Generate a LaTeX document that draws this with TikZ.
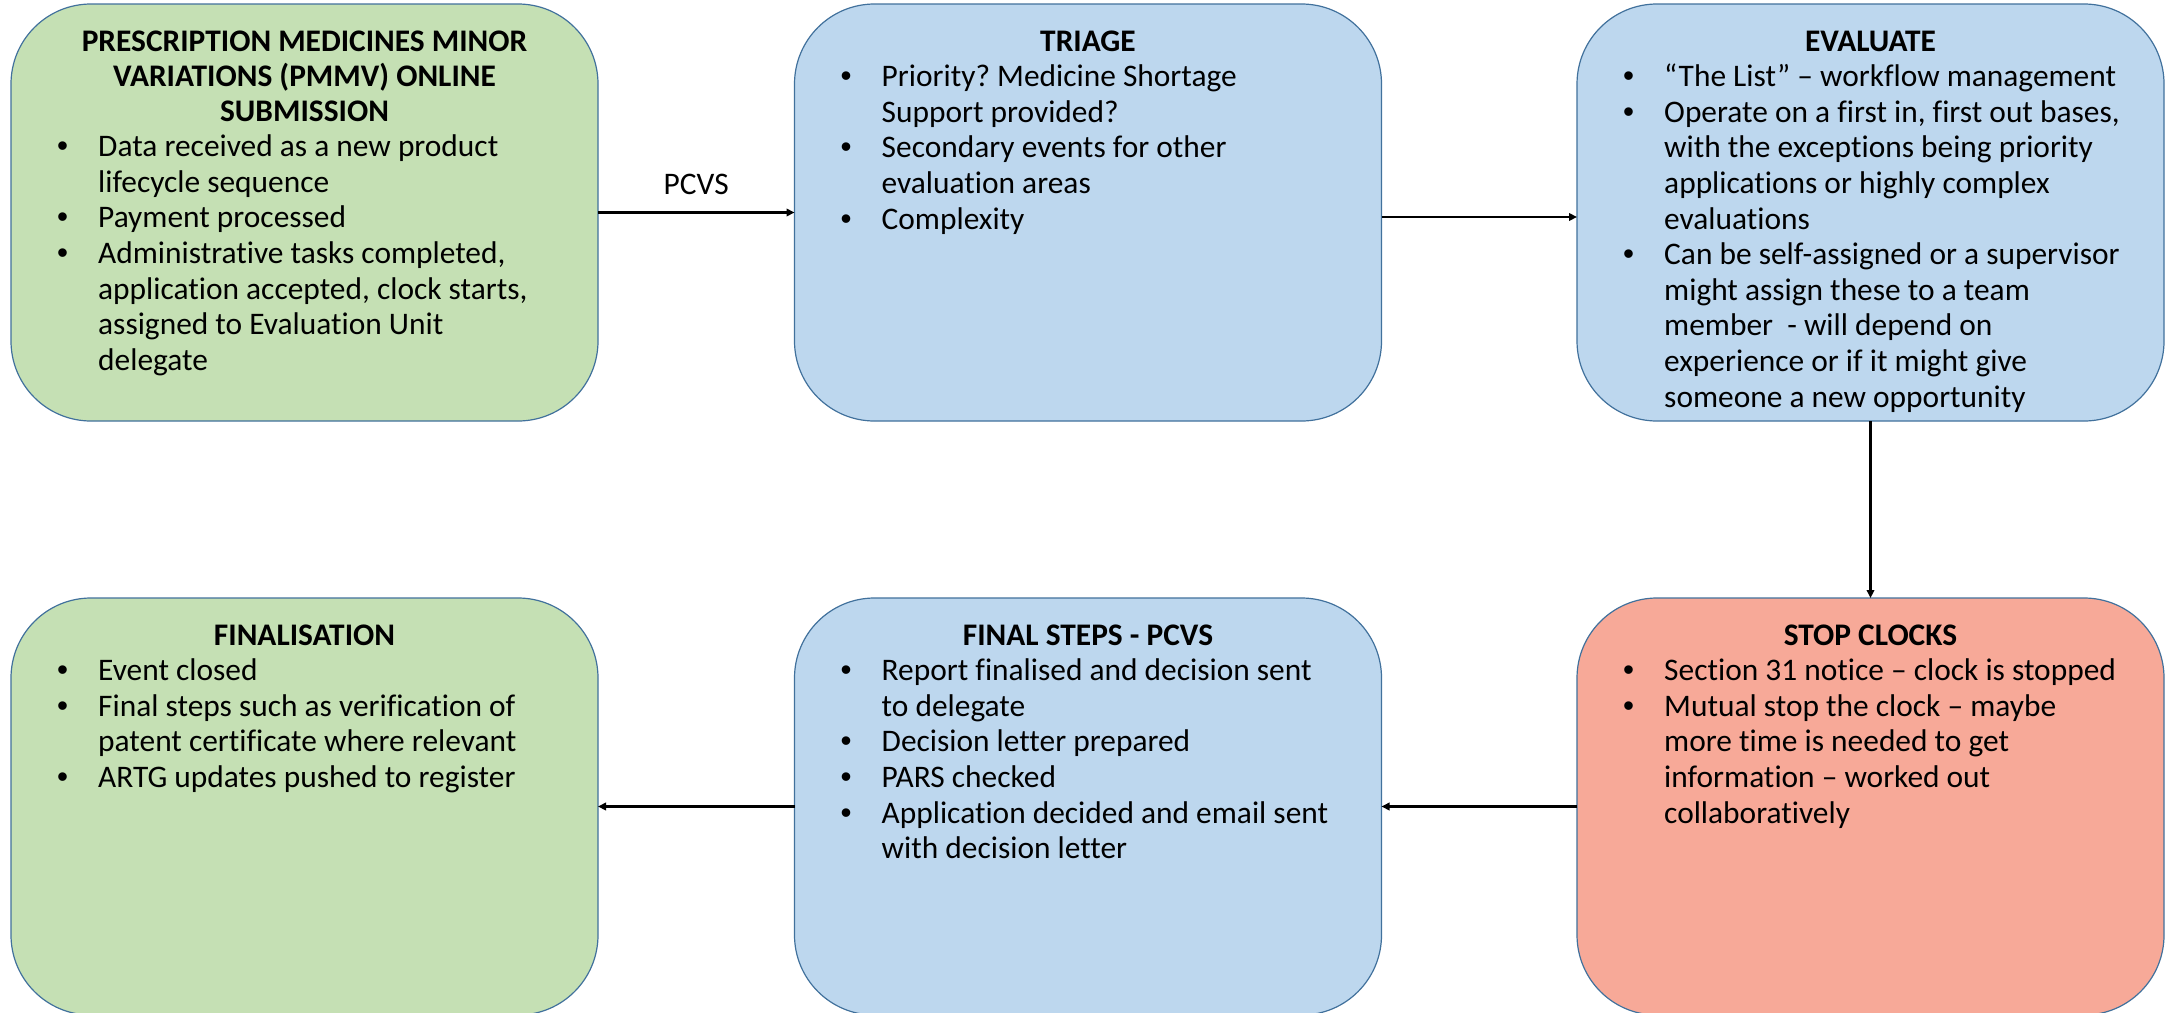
\documentclass[tikz,border=0pt]{standalone}
\usepackage{fontspec}
\setmainfont{Carlito}[Ligatures=NoCommon]
\newfontfamily\bulfont{Liberation Sans}
\usetikzlibrary{arrows.meta}
\definecolor{gfill}{HTML}{C5E0B4}
\definecolor{bfill}{HTML}{BDD7EE}
\definecolor{rfill}{HTML}{F7A998}
\definecolor{edgec}{HTML}{41719C}
\frenchspacing
\newcommand\fl{\rule{0pt}{32pt}}
\newcommand\bu{\makebox[41pt][l]{\bulfont •}}
\newcommand\ind{\hspace*{41pt}}
\begin{document}
\begin{tikzpicture}[x=1pt,y=-1pt,
 stage/.style={draw=edgec, line width=1.2pt, rounded corners=80pt, minimum width=587pt, minimum height=417pt, inner sep=0pt, outer sep=0pt},
 ttl/.style={anchor=north, inner sep=0pt, align=center, font=\fontsize{31.4}{35}\selectfont\bfseries\frenchspacing},
 body/.style={anchor=north west, inner sep=0pt, align=left, font=\fontsize{31.4}{35.6}\selectfont\frenchspacing},
 arr/.style={line width=2.2pt, -{Triangle[length=8pt,width=7.5pt]}},
 lbl/.style={font=\fontsize{31.4}{35}\selectfont, inner sep=0pt, anchor=base}
]
\fill[white] (0,0) rectangle (2167,1012);
\useasboundingbox (0,0) rectangle (2167,1012);

\node[stage, fill=gfill] (b1) at (304.5,212.5) {};
\node[stage, fill=bfill] (b2) at (1088,212.5) {};
\node[stage, fill=bfill] (b3) at (1870.5,212.5) {};
\node[stage, fill=gfill] (b4) at (304.5,806.5) {};
\node[stage, fill=bfill] (b5) at (1088,806.5) {};
\node[stage, fill=rfill] (b6) at (1870.5,806.5) {};

\node[ttl] (t1) at ([yshift=-15.5pt]b1.north) {\fl PRESCRIPTION MEDICINES MINOR\\VARIATIONS (PMMV) ONLINE\\SUBMISSION};
\node[body] (l1) at ([xshift=46pt,yshift=-120.5pt]b1.north west) {\fl\bu Data received as a new product\\\ind lifecycle sequence\\\bu Payment processed\\\bu Administrative tasks completed,\\\ind application accepted, clock starts,\\\ind assigned to Evaluation Unit\\\ind delegate};

\node[ttl] (t2) at ([yshift=-15.5pt]b2.north) {\fl TRIAGE};
\node[body] (l2) at ([xshift=46pt,yshift=-50.5pt]b2.north west) {\fl\bu Priority? Medicine Shortage\\\ind Support provided?\\\bu Secondary events for other\\\ind evaluation areas\\\bu Complexity};

\node[ttl] (t3) at ([yshift=-15.5pt]b3.north) {\fl EVALUATE};
\node[body] (l3) at ([xshift=46pt,yshift=-50.5pt]b3.north west) {\fl\bu “The List” – workflow management\\\bu Operate on a first in, first out bases,\\\ind with the exceptions being priority\\\ind applications or highly complex\\\ind evaluations\\\bu Can be self-assigned or a supervisor\\\ind might assign these to a team\\\ind member~ - will depend on\\\ind experience or if it might give\\\ind someone a new opportunity};

\node[ttl] (t4) at ([yshift=-15.5pt]b4.north) {\fl FINALISATION};
\node[body] (l4) at ([xshift=46pt,yshift=-50.5pt]b4.north west) {\fl\bu Event closed\\\bu Final steps such as verification of\\\ind patent certificate where relevant\\\bu ARTG updates pushed to register};

\node[ttl] (t5) at ([yshift=-15.5pt]b5.north) {\fl FINAL STEPS - PCVS};
\node[body] (l5) at ([xshift=46pt,yshift=-50.5pt]b5.north west) {\fl\bu Report finalised and decision sent\\\ind to delegate\\\bu Decision letter prepared\\\bu PARS checked\\\bu Application decided and email sent\\\ind with decision letter};

\node[ttl] (t6) at ([yshift=-15.5pt]b6.north) {\fl STOP CLOCKS};
\node[body] (l6) at ([xshift=46pt,yshift=-50.5pt]b6.north west) {\fl\bu Section 31 notice – clock is stopped\\\bu Mutual stop the clock – maybe\\\ind more time is needed to get\\\ind information – worked out\\\ind collaboratively};

\draw[arr] (b1.east) -- node[lbl, yshift=18pt] (pcvs) {PCVS} (b2.west);
\draw[arr] ([yshift=-4.5pt]b2.east) -- ([yshift=-4.5pt]b3.west);
\draw[arr] (b3.south) -- (b6.north);
\draw[arr] (b6.west) -- (b5.east);
\draw[arr] (b5.west) -- (b4.east);
\end{tikzpicture}
\end{document}
